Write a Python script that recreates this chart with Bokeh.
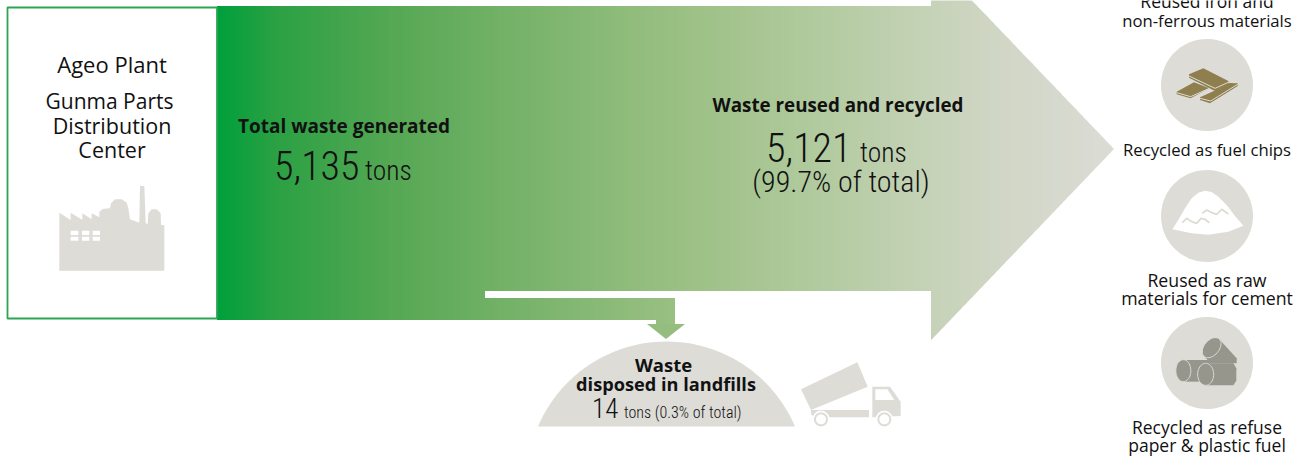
import numpy as np
from bokeh.plotting import figure
from bokeh.models import Range1d
from bokeh.embed import file_html
from bokeh.resources import INLINE

# ---- content ----
plant_names = ["Ageo Plant", "Gunma Parts", "Distribution", "Center"]
total_waste = "5,135"
reused_waste = "5,121"
reused_share = "(99.7% of total)"
landfill_waste = "14"
landfill_note = "tons (0.3% of total)"
unit = "tons"
head_total = "Total waste generated"
head_reused = "Waste reused and recycled"
head_landfill = ["Waste", "disposed in landfills"]
uses = ["Reused iron and", "non-ferrous materials", "Recycled as fuel chips",
        "Reused as raw", "materials for cement", "Recycled as refuse", "paper & plastic fuel"]

# ---- style ----
GREY = "#dddcd7"
GREEN = "#2aa650"
BODY = "Open Sans"
NARROW = "Roboto Condensed Light, Roboto Condensed, DejaVu Sans Condensed, Lato"
INK = "#111111"

p = figure(width=1305, height=456, x_range=Range1d(0.5, 1305.5), y_range=Range1d(456.5, 0.5),
           toolbar_location=None, output_backend="svg", min_border=0,
           margin=(0, 0, 0, 0), outline_line_color=None, background_fill_color="white")
p.axis.visible = False
p.grid.visible = False


def grad(x):
    xs = [217, 275, 390, 505, 678, 794, 931, 990, 1114]
    r = [0, 43, 85, 116, 155, 174, 198, 208, 220]
    g = [160, 161, 168, 178, 192, 201, 211, 214, 220]
    b = [60, 68, 84, 104, 132, 154, 184, 196, 214]
    return "#%02x%02x%02x" % (int(np.interp(x, xs, r)), int(np.interp(x, xs, g)), int(np.interp(x, xs, b)))


def crop(ox, oy, pts):
    return [ox + a / 3 for a, _ in pts], [oy + b / 3 for _, b in pts]


def oval(cx, cy, rx, ry, deg=0, n=48):
    t = np.linspace(0, 2 * np.pi, n)
    a = np.radians(deg)
    x = rx * np.cos(t)
    y = ry * np.sin(t)
    return list(cx + x * np.cos(a) - y * np.sin(a)), list(cy + x * np.sin(a) + y * np.cos(a))


def label(x, y, txt, size, font=BODY, style="normal", align="center", color=INK):
    # the page draws "alphabetic" text about 0.36 em below the given y
    p.text([x], [y - 0.36 * size], text=[txt], text_font_size=f"{size}px", text_font={"value": font},
           text_font_style=style, text_align=align, text_baseline="alphabetic", text_color=color)


# ---- big arrow, drawn as narrow gradient strips ----
def arrow_top(x):
    return 6.0 if x <= 931 else 149 - (1114 - x) * 1.045


def arrow_bot(x, right_side):
    if x < 485 or (x == 485 and not right_side):
        return 320.0
    if x < 931 or (x == 931 and not right_side):
        return 291.0
    return 149 + (1114 - x) * 1.045


sx, sy, sc = [], [], []
for x0 in range(217, 1114):
    x1 = x0 + 1
    sx.append([x0, x1, x1, x0])
    sy.append([arrow_top(x0 + 1e-6), arrow_top(x1), arrow_bot(x1, False), arrow_bot(x0, True)])
    sc.append(grad(x0))
p.patches(sx, sy, fill_color=sc, fill_alpha=1.0, line_color=None)

# landfill branch
bx, by, bc = [], [], []
for x0 in range(485, 675):
    bot = 320 if x0 < 656 else 325
    bx.append([x0, x0 + 1, x0 + 1, x0])
    by.append([298, 298, bot, bot])
    bc.append(grad(x0))
p.patches(bx, by, fill_color=bc, fill_alpha=1.0, line_color=None)
p.patch([647, 685, 666], [324, 324, 339], fill_color="#94bd7f", line_color=None)

# plant box
p.quad(left=[7.5], right=[217], top=[7.5], bottom=[318.5], fill_color="white", fill_alpha=1.0,
       line_color=GREEN, line_width=1.8)
fx, fy = crop(50, 180, [(28, 98), (62, 120), (62, 98), (97, 120), (97, 100), (125, 118), (125, 100), (148, 112),
                        (148, 95), (158, 87), (180, 85), (183, 70), (195, 58), (215, 58), (230, 68), (235, 85),
                        (240, 118), (268, 128), (270, 18), (283, 18), (287, 130), (293, 132), (295, 100),
                        (305, 88), (320, 88), (332, 100), (333, 135), (343, 135), (343, 272), (28, 272)])
p.patch(fx, fy, fill_color=GREY, line_color=None)
for cx0, cx1 in [(62, 85), (96, 118), (128, 150)]:
    for ry0, ry1 in [(152, 165), (170, 182)]:
        wx, wy = crop(50, 180, [(cx0, ry0), (cx1, ry0), (cx1, ry1), (cx0, ry1)])
        p.patch(wx, wy, fill_color="white", line_color=None)

# landfill dome
half, rise = 128.5, 85
rad = (half ** 2 + rise ** 2) / (2 * rise)
t = np.linspace(-np.arcsin(half / rad), np.arcsin(half / rad), 80)
p.patch(list(666.5 + rad * np.sin(t)), list(426.5 - rise + rad - rad * np.cos(t)), fill_color=GREY, line_color=None)

# truck
for pts in ([(18, 103), (187, 22), (218, 95), (48, 165)],
            [(48, 165), (222, 165), (222, 187), (60, 187), (48, 178)],
            [(232, 95), (285, 95), (317, 140), (317, 183), (232, 187)]):
    tx, ty = crop(795, 355, pts)
    p.patch(tx, ty, fill_color=GREY, line_color=None)
tx, ty = crop(795, 355, [(241, 103), (277, 103), (298, 135), (241, 135)])
p.patch(tx, ty, fill_color="white", line_color=None)
for wx0 in (78, 268):
    cx, cy = 795 + wx0 / 3, 355 + 193 / 3
    hx, hy = oval(cx, cy, 8.6, 8.6)
    p.patch(hx, hy, fill_color="white", line_color=None)
    hx, hy = oval(cx, cy, 6, 6)
    p.patch(hx, hy, fill_color="white", line_color=GREY, line_width=2)

# right-hand discs
for cy in (85, 216, 363):
    hx, hy = oval(1207, cy, 46, 46, n=96)
    p.patch(hx, hy, fill_color=GREY, line_color=None)

# metal bars
TAN = "#8f7f4e"
for pts in ([(20, 110), (72, 82), (118, 100), (62, 130), (20, 118)],
            [(90, 127), (150, 100), (178, 84), (203, 85), (203, 93), (120, 145), (90, 135)],
            [(57, 58), (100, 40), (175, 78), (175, 88), (135, 108), (57, 68)]):
    bx_, by_ = crop(1170, 55, pts)
    p.patch(bx_, by_, fill_color=TAN, line_color=None)
for pts in ([(57, 63), (135, 100), (175, 82)], [(20, 113), (62, 125), (118, 100)], [(90, 130), (122, 138), (203, 88)]):
    bx_, by_ = crop(1170, 55, pts)
    p.line(bx_, by_, line_color=GREY, line_width=1)

# pile
px_, py_ = crop(1165, 180, [(22, 148), (40, 120), (60, 85), (80, 55), (100, 38), (120, 32), (140, 36), (160, 50),
                            (185, 75), (210, 108), (235, 137), (190, 155), (130, 164), (80, 160)])
p.patch(px_, py_, fill_color="white", line_color=None)
for pts in ([(52, 128), (65, 115), (80, 125), (95, 130), (108, 115), (120, 118), (133, 128)],
            [(112, 100), (125, 90), (140, 98), (155, 103), (170, 88), (190, 102)]):
    wx, wy = crop(1165, 180, pts)
    p.line(wx, wy, line_color=GREY, line_width=1.8)

# rolls
ROLL = "#96968c"
ox, oy = 1165, 330
rx_, ry_ = crop(ox, oy, [(165, 30), (215, 85), (215, 100), (135, 100), (118, 78)])
p.patch(rx_, ry_, fill_color=ROLL, line_color=None)
hx, hy = oval(ox + 140 / 3, oy + 53 / 3, 11.5, 7.5, -50)
p.patch(hx, hy, fill_color=ROLL, line_color=GREY, line_width=1)
rx_, ry_ = crop(ox, oy, [(55, 90), (135, 90), (135, 155), (55, 155)])
p.patch(rx_, ry_, fill_color=ROLL, line_color=None)
hx, hy = oval(ox + 55 / 3, oy + 122 / 3, 7.5, 11)
p.patch(hx, hy, fill_color=ROLL, line_color=GREY, line_width=1)
rx_, ry_ = crop(ox, oy, [(122, 100), (205, 100), (214, 115), (214, 152), (205, 166), (122, 166)])
p.patch(rx_, ry_, fill_color=ROLL, line_color=None)
hx, hy = oval(ox + 122 / 3, oy + 133 / 3, 8, 11)
p.patch(hx, hy, fill_color=ROLL, line_color=GREY, line_width=1)

# ---- text ----
for name, xc, yb, fs in zip(plant_names, [112, 109.5, 112, 112], [72, 109, 133, 157], [22, 21, 21.5, 21.5]):
    label(xc, yb, name, fs)
label(344, 133, head_total, 19, style="bold")
label(274, 180, total_waste, 40, font=NARROW, align="left")
label(365, 180, unit, 27.5, font=NARROW, align="left")
label(838, 112, head_reused, 18.8, style="bold")
label(766, 162, reused_waste, 40, font=NARROW, align="left")
label(860, 162, unit, 27.5, font=NARROW, align="left")
label(841, 192, reused_share, 30, font=NARROW)
label(663.5, 371, head_landfill[0], 18.5, style="bold")
label(666, 391, head_landfill[1], 18.2, style="bold")
label(592, 418, landfill_waste, 27, font=NARROW, align="left")
label(624, 418, landfill_note, 16, font=NARROW, align="left")
for txt, yb, fs in zip(uses, [7, 27, 156, 286, 304, 433, 451], [17.5, 16.7, 16.7, 17.7, 17.7, 17.5, 17.5]):
    label(1207, yb, txt, fs)

open("out.html", "w").write(file_html(p, INLINE))
